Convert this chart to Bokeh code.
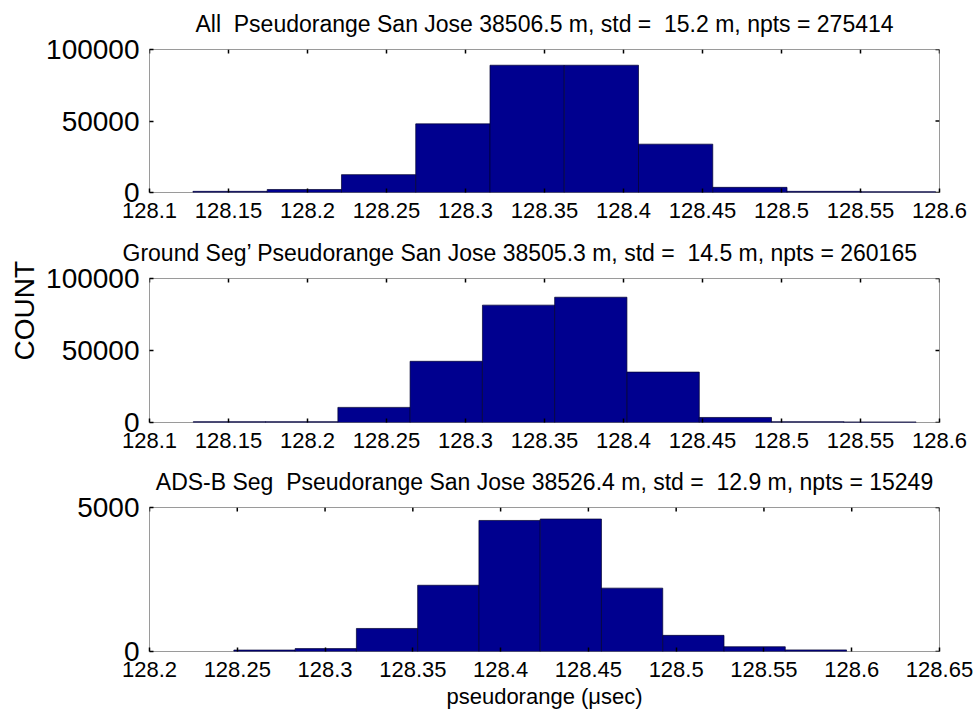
import math
from bokeh.plotting import figure
from bokeh.layouts import column
from bokeh.models import Range1d, FixedTicker, LinearAxis, CustomJSTickFormatter, BasicTickFormatter, Title
from bokeh.embed import file_html
from bokeh.resources import INLINE

# ---------------- data ----------------
NB = "\u00a0"
titles = [
    "All" + NB + " Pseudorange San Jose 38506.5 m, std =" + NB + " 15.2 m, npts = 275414",
    "Ground Seg\u2019 Pseudorange San Jose 38505.3 m, std =" + NB + " 14.5 m, npts = 260165",
    "ADS-B Seg" + NB + " Pseudorange San Jose 38526.4 m, std =" + NB + " 12.9 m, npts = 15249",
]

x_ticks_ab = [128.1, 128.15, 128.2, 128.25, 128.3, 128.35, 128.4, 128.45, 128.5, 128.55, 128.6]
x_ticks_c = [128.2, 128.25, 128.3, 128.35, 128.4, 128.45, 128.5, 128.55, 128.6, 128.65]
y_ticks_ab = [0, 50000, 100000]
y_ticks_c = [0, 5000]

all_centers = [128.151, 128.198, 128.245, 128.292, 128.339, 128.386, 128.433, 128.480, 128.527, 128.574]
all_counts = [800, 2100, 12500, 48000, 89000, 89000, 33800, 3600, 800, 600]
all_bin_width = 0.047

ground_centers = [128.1506, 128.1963, 128.2421, 128.2878, 128.3336, 128.3793, 128.4251, 128.4708, 128.5166, 128.5623]
ground_counts = [600, 600, 10500, 42500, 81500, 87000, 35000, 3500, 600, 400]
ground_bin_width = 0.04575

adsb_centers = [128.2655, 128.3004, 128.3353, 128.3702, 128.4051, 128.4400, 128.4749, 128.5098, 128.5447, 128.5796]
adsb_counts = [50, 100, 800, 2300, 4550, 4600, 2200, 560, 165, 55]
adsb_bin_width = 0.0349

x_label = "pseudorange (\u03bcsec)"
y_label = "COUNT"

# ---------------- styling ----------------
FONT = "Liberation Sans"
BAR_FILL = "#00008F"
BOX = "#9a9a9a"
TICK_LEN = 4


def make_panel(title_text, centers, counts, bin_w, xlim, xticks, ylim, yticks,
               height, top, bottom, title_standoff, ylabel=None, xlabel=None,
               title_align="center", title_offset=0):
    p = figure(width=975, height=height, output_backend="svg", toolbar_location=None,
               x_range=Range1d(*xlim), y_range=Range1d(*ylim),
               x_axis_type=None, y_axis_type=None,
               min_border_left=149, min_border_right=36,
               min_border_top=top, min_border_bottom=bottom,
               title=title_text)
    p.background_fill_color = "white"
    p.border_fill_color = "white"
    p.outline_line_color = BOX
    p.outline_line_width = 1

    p.title.text_font = FONT
    p.title.text_font_size = "23px"
    p.title.text_font_style = "normal"
    p.title.text_color = "black"
    p.title.align = title_align
    p.title.vertical_align = "top"
    p.title.offset = title_offset
    p.title.standoff = title_standoff

    p.vbar(x=centers, width=bin_w, top=counts, bottom=0,
           fill_color=BAR_FILL, line_color="#000030", line_width=0.7)

    # inward ticks on the top and right edges of the box
    p.ray(x=xticks, y=[ylim[1]] * len(xticks), length=TICK_LEN, length_units="screen",
          angle=-math.pi / 2, line_color="black", line_width=1.5)
    p.ray(x=[xlim[1]] * len(yticks), y=yticks, length=TICK_LEN, length_units="screen",
          angle=math.pi, line_color="black", line_width=1.5)

    xfmt = CustomJSTickFormatter(code="return String(Math.round(tick*100)/100);")
    yfmt = BasicTickFormatter(use_scientific=False)

    def style(ax, size):
        ax.major_tick_in = TICK_LEN
        ax.major_tick_out = 0
        ax.minor_tick_line_color = None
        ax.axis_line_color = None
        ax.major_tick_line_color = "black"
        ax.major_tick_line_width = 1.5
        ax.major_label_text_font = FONT
        ax.major_label_text_font_size = size
        ax.major_label_text_color = "black"

    below = LinearAxis(ticker=FixedTicker(ticks=xticks), formatter=xfmt)
    style(below, "22px")
    below.major_label_standoff = 10
    if xlabel:
        below.axis_label = xlabel
        below.axis_label_text_font = FONT
        below.axis_label_text_font_size = "22px"
        below.axis_label_text_font_style = "normal"
        below.axis_label_text_color = "black"
        below.axis_label_standoff = 4
    p.add_layout(below, "below")

    left = LinearAxis(ticker=FixedTicker(ticks=yticks), formatter=yfmt)
    style(left, "28px")
    left.major_label_standoff = 10
    p.add_layout(left, "left")

    if ylabel:
        p.add_layout(Title(text=ylabel, text_font=FONT, text_font_size="28px",
                           text_font_style="normal", text_color="black",
                           align="left", offset=62, standoff=8), "left")
    return p


p1 = make_panel(titles[0], all_centers, all_counts, all_bin_width,
                (128.1, 128.6), x_ticks_ab, (0, 100000), y_ticks_ab,
                height=228, top=49, bottom=36, title_standoff=21)
p2 = make_panel(titles[1], ground_centers, ground_counts, ground_bin_width,
                (128.1, 128.6), x_ticks_ab, (0, 100000), y_ticks_ab,
                height=230, top=50, bottom=36, title_standoff=22,
                ylabel=y_label, title_align="left", title_offset=-27)
p3 = make_panel(titles[2], adsb_centers, adsb_counts, adsb_bin_width,
                (128.2, 128.65), x_ticks_c, (0, 5000), y_ticks_c,
                height=255, top=49, bottom=62, title_standoff=21, xlabel=x_label)

layout = column(p1, p2, p3, spacing=0)
open("out.html", "w").write(file_html(layout, INLINE))
